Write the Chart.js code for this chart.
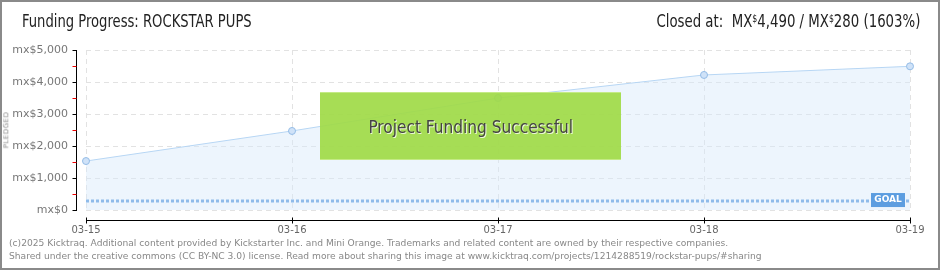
<!DOCTYPE html>
<html>
<head>
<meta charset="utf-8">
<script src="https://cdn.jsdelivr.net/npm/chart.js@4/dist/chart.umd.min.js"></script>
<style>
  html, body { margin: 0; padding: 0; background: #fff; }
  #frame {
    position: relative; width: 940px; height: 270px; box-sizing: border-box;
    border: 2px solid #8a8a8a; overflow: hidden; background: #fff;
  }
  #chart { position: absolute; left: -2px; top: -2px; }
  .head { position: absolute; top: 9px; font-family: "Liberation Sans Narrow", "DejaVu Sans Condensed", sans-serif;
    font-size: 17px; color: #222; white-space: nowrap; }
  #title { left: 20px; transform: scaleX(0.86); transform-origin: left center; }
  #closed { right: 18px; transform: scaleX(0.87); transform-origin: right center; }
  #closed sup { font-size: 10px; vertical-align: 5px; }
  #pledged { position: absolute; left: -14px; top: 124px; transform: rotate(-90deg);
    font-family: "DejaVu Sans", sans-serif; font-size: 7px; color: #888; letter-spacing: 0.5px; }
  #success {
    position: absolute; left: 318px; top: 90px; width: 301px; height: 66px;
    background: rgba(160, 218, 70, 0.92); border-top: 1px solid #c4ea86; border-bottom: 1px solid #c4ea86;
    display: flex; align-items: center; justify-content: center;
    font-family: "Liberation Sans Narrow", "DejaVu Sans Condensed", sans-serif; font-size: 18px;
    color: #444; text-shadow: 1px 1px 0 rgba(255, 255, 255, 0.8);
  }
  #success span { display: inline-block; transform: scaleX(0.95); }
  #footer { position: absolute; left: 7px; top: 235px; font-family: "DejaVu Sans", sans-serif;
    font-size: 9.15px; line-height: 13px; color: #888; white-space: nowrap; }
</style>
</head>
<body>
<div id="frame">
  <canvas id="chart" width="940" height="270"></canvas>
  <div class="head" id="title">Funding Progress: ROCKSTAR PUPS</div>
  <div class="head" id="closed">Closed at:&nbsp; MX<sup>$</sup>4,490 / MX<sup>$</sup>280 (1603%)</div>
  <div id="pledged">PLEDGED</div>
  <div id="success"><span>Project Funding Successful</span></div>
  <div id="footer">(c)2025 Kicktraq. Additional content provided by Kickstarter Inc. and Mini Orange. Trademarks and related content are owned by their respective companies.<br>Shared under the creative commons (CC BY-NC 3.0) license. Read more about sharing this image at www.kicktraq.com/projects/1214288519/rockstar-pups/#sharing</div>
</div>
<script>
const dates = ['03-15', '03-16', '03-17', '03-18', '03-19'];
const pledged = [1530, 2470, 3500, 4220, 4490];
const goalLine = [280, 280, 280, 280, 280];
const yMax = 5000;
const yStep = 1000;

const axisPlugin = {
  id: 'kicktraqAxes',
  afterDraw(chart) {
    const { ctx, chartArea, scales } = chart;
    const x = scales.x;
    const y = scales.y;
    ctx.save();
    ctx.lineWidth = 1;
    // y axis
    const ax = chartArea.left - 9.5;
    ctx.strokeStyle = '#000';
    ctx.beginPath();
    ctx.moveTo(ax, y.getPixelForValue(yMax));
    ctx.lineTo(ax, y.getPixelForValue(0) + 1);
    ctx.stroke();
    for (let v = 0; v <= yMax; v += yStep / 2) {
      const py = Math.round(y.getPixelForValue(v)) + 0.5;
      ctx.strokeStyle = v % yStep === 0 ? '#000' : '#e00';
      ctx.beginPath();
      ctx.moveTo(ax - 4, py);
      ctx.lineTo(ax, py);
      ctx.stroke();
    }
    // x axis
    const ay = chartArea.bottom + 10.5;
    ctx.strokeStyle = '#000';
    ctx.beginPath();
    ctx.moveTo(x.getPixelForValue(0), ay);
    ctx.lineTo(x.getPixelForValue(dates.length - 1), ay);
    ctx.stroke();
    dates.forEach((d, i) => {
      const px = Math.round(x.getPixelForValue(i)) + 0.5;
      ctx.beginPath();
      ctx.moveTo(px, ay - 3);
      ctx.lineTo(px, ay + 3);
      ctx.stroke();
    });
    // goal label
    const gy = y.getPixelForValue(goalLine[0]);
    const gx = x.getPixelForValue(dates.length - 1) - 39;
    ctx.fillStyle = '#5c9de0';
    ctx.fillRect(gx, gy - 8, 34, 14);
    ctx.fillStyle = '#fff';
    ctx.font = 'bold 9px "DejaVu Sans", sans-serif';
    ctx.textAlign = 'center';
    ctx.textBaseline = 'middle';
    ctx.fillText('GOAL', gx + 17, gy - 1);
    ctx.restore();
  }
};

new Chart(document.getElementById('chart'), {
  type: 'line',
  data: {
    labels: dates,
    datasets: [{
      label: 'Pledged',
      data: pledged,
      borderColor: '#b7d6f4',
      backgroundColor: 'rgba(214, 232, 251, 0.45)',
      borderWidth: 1,
      fill: 'origin',
      tension: 0,
      pointRadius: 3.5,
      pointBackgroundColor: '#cfe2f8',
      pointBorderColor: '#94bce6',
      pointBorderWidth: 1,
      clip: false,
      order: 1
    }, {
      label: 'Goal',
      data: goalLine,
      borderColor: '#8fbbea',
      borderWidth: 3,
      borderDash: [3, 2],
      pointRadius: 0,
      fill: false,
      clip: false,
      order: 0
    }]
  },
  options: {
    responsive: false,
    devicePixelRatio: 1,
    animation: false,
    layout: { padding: { top: 50, right: 30, left: 0, bottom: 0 } },
    plugins: { legend: { display: false }, tooltip: { enabled: false }, title: { display: false } },
    scales: {
      x: {
        type: 'category',
        offset: false,
        afterFit(scale) { scale.height = 60; },
        grid: { color: '#e2e2e2', drawTicks: false },
        border: { display: false, dash: [5, 4] },
        ticks: {
          padding: 14, color: '#666', maxRotation: 0, autoSkip: false,
          font: { family: '"DejaVu Sans", sans-serif', size: 10 }
        }
      },
      y: {
        min: 0,
        max: yMax,
        afterFit(scale) { scale.width = 86; },
        grid: { color: '#e2e2e2', drawTicks: false },
        border: { display: false, dash: [5, 4] },
        ticks: {
          stepSize: yStep, padding: 18, color: '#777',
          font: { family: '"DejaVu Sans", sans-serif', size: 11 },
          callback: (v) => 'mx$' + v.toLocaleString('en-US')
        }
      }
    }
  },
  plugins: [axisPlugin]
});
</script>
</body>
</html>
